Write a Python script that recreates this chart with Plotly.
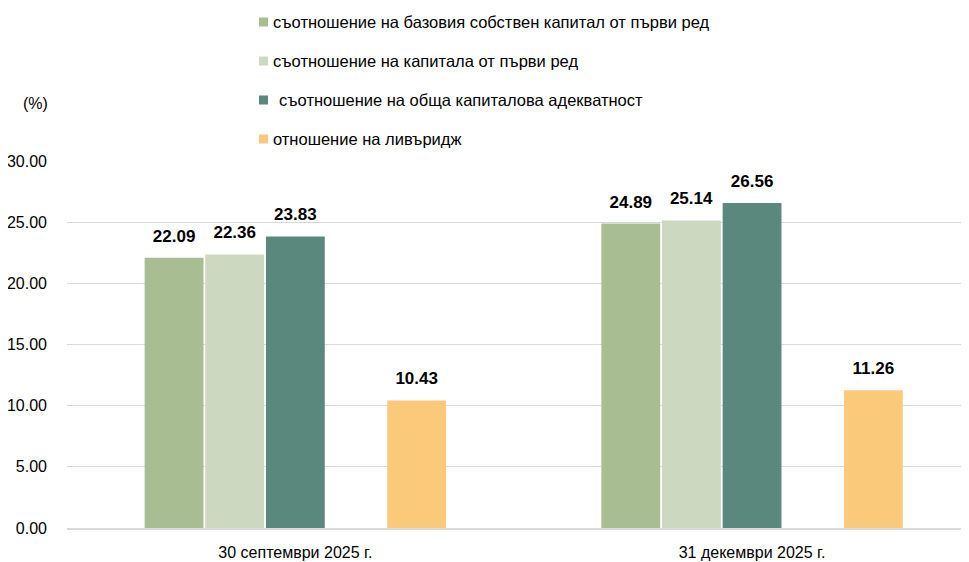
import plotly.graph_objects as go

categories = ["30 септември 2025 г.", "31 декември 2025 г."]
series_names = [
    "съотношение на базовия собствен капитал от първи ред",
    "съотношение на капитала от първи ред",
    "съотношение на обща капиталова адекватност",
    "отношение на ливъридж",
]
cet1 = [22.09, 24.89]
tier1 = [22.36, 25.14]
total_car = [23.83, 26.56]
leverage = [10.43, 11.26]
y_ticks = [0, 5, 10, 15, 20, 25, 30]
y_tick_labels = ["0.00", "5.00", "10.00", "15.00", "20.00", "25.00", "30.00"]

colors = ["#A9BD92", "#CDD8C0", "#5A887C", "#FBC97A"]
FONT2 = "Liberation Sans, Arial, sans-serif"

OFF = 8  # page body margin
W, H = 969 - OFF, 562 - OFF
L, R, T, B = 59, 0, 153, 34
pw, ph = W - L - R, H - T - B


def label(v):
    # value on the first line; a tiny blank second line keeps a gap above the bar
    return (f"<span style='font-size:17px'>{v:.2f}</span>"
            "<br><span style='font-size:1px'>&nbsp;</span>")


fig = go.Figure()
vals = [cet1, tier1, total_car, None, leverage]
trace_colors = [colors[0], colors[1], colors[2], None, colors[3]]
for i, v in enumerate(vals):
    if v is None:
        fig.add_trace(go.Bar(x=categories, y=[None, None], showlegend=False,
                             hoverinfo="skip"))
        continue
    fig.add_trace(go.Bar(
        x=categories, y=v,
        marker=dict(color=trace_colors[i], line=dict(width=0)),
        text=[label(x) for x in v], textposition="outside",
        textfont=dict(family=FONT2, size=10, color="#000000", weight="bold"),
        cliponaxis=False, showlegend=False,
    ))

fig.update_layout(
    width=W, height=H,
    margin=dict(l=L, r=R, t=T, b=B),
    paper_bgcolor="white", plot_bgcolor="white",
    barmode="group", bargap=0.336, bargroupgap=0.03,
    font=dict(family=FONT2, size=16, color="#000000"),
    xaxis=dict(range=[-0.5, 1.475], showgrid=False, showline=True,
               linecolor="#D9D9D9", linewidth=2, ticks="",
               tickfont=dict(size=16), ticklabelstandoff=9),
    yaxis=dict(range=[0, 30], tickvals=y_ticks, ticktext=y_tick_labels,
               showgrid=True, gridcolor="#D9D9D9", gridwidth=1,
               zeroline=False, showline=False, ticks="",
               tickfont=dict(size=16), ticklabelstandoff=19),
)


def px(X):
    return (X - OFF - L) / pw


def py(Y):
    return (H - B - (Y - OFF)) / ph


fig.add_annotation(text="(%)", x=px(35), y=py(103), xref="paper", yref="paper",
                   showarrow=False, xanchor="center", yanchor="middle",
                   font=dict(size=16))

leg_y = [22, 61, 100, 139]
leg_tx = [271, 271, 277, 271]
for name, c, yy, tx in zip(series_names, colors, leg_y, leg_tx):
    fig.add_shape(type="rect", xref="paper", yref="paper",
                  x0=px(259), x1=px(268), y0=py(yy + 4.5), y1=py(yy - 4.5),
                  fillcolor=c, line=dict(width=0))
    fig.add_annotation(text=name, x=px(tx), y=py(yy), xref="paper", yref="paper",
                       showarrow=False, xanchor="left", yanchor="middle",
                       font=dict(size=16.5))

fig.write_html("out.html")
